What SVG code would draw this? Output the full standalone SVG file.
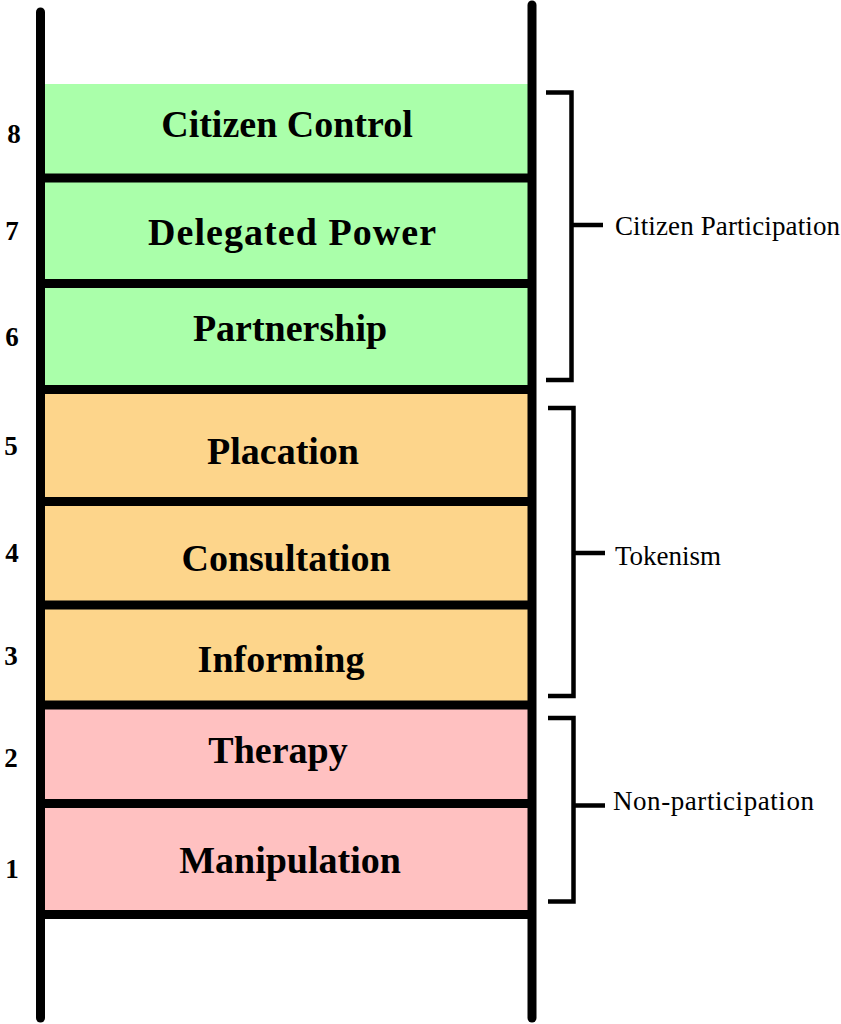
<svg xmlns="http://www.w3.org/2000/svg" width="841" height="1024" viewBox="0 0 841 1024">
<style>
.rail{stroke:#000;stroke-width:9;stroke-linecap:round;fill:none}
.rung{stroke:#000;stroke-width:9;fill:none}
.br{stroke:#000;stroke-width:4.5;fill:none}
.lbl{font-family:"Liberation Serif","Times New Roman",serif;font-weight:bold;font-size:38px;text-anchor:middle;fill:#000}
.num{font-family:"Liberation Serif","Times New Roman",serif;font-weight:bold;font-size:27px;text-anchor:middle;fill:#000}
.grp{font-family:"Liberation Serif","Times New Roman",serif;font-size:27px;fill:#000}
.g{fill:#aaffaa}.o{fill:#fdd58b}.p{fill:#ffc1c1}
</style>
<rect width="841" height="1024" fill="#fff"/>
<g id="rung8"><rect class="g" x="40" y="84" width="492" height="94"/><text class="lbl" x="287" y="137">Citizen Control</text><text class="num" x="14" y="143">8</text></g>
<g id="rung7"><rect class="g" x="40" y="178" width="492" height="106"/><text class="lbl" x="292" y="245" textLength="288" lengthAdjust="spacing">Delegated Power</text><text class="num" x="12" y="240">7</text></g>
<g id="rung6"><rect class="g" x="40" y="284" width="492" height="106"/><text class="lbl" x="290" y="341">Partnership</text><text class="num" x="12" y="346">6</text></g>
<g id="rung5"><rect class="o" x="40" y="390" width="492" height="112"/><text class="lbl" x="283" y="464">Placation</text><text class="num" x="11" y="455">5</text></g>
<g id="rung4"><rect class="o" x="40" y="502" width="492" height="103"/><text class="lbl" x="286" y="571">Consultation</text><text class="num" x="12" y="562">4</text></g>
<g id="rung3"><rect class="o" x="40" y="605" width="492" height="100"/><text class="lbl" x="281" y="672">Informing</text><text class="num" x="11" y="665">3</text></g>
<g id="rung2"><rect class="p" x="40" y="705" width="492" height="99"/><text class="lbl" x="278" y="763">Therapy</text><text class="num" x="11" y="767">2</text></g>
<g id="rung1"><rect class="p" x="40" y="804" width="492" height="111"/><text class="lbl" x="290" y="873">Manipulation</text><text class="num" x="12" y="878">1</text></g>
<g id="ladder">
<line class="rung" x1="40" y1="178" x2="532" y2="178"/>
<line class="rung" x1="40" y1="283.5" x2="532" y2="283.5"/>
<line class="rung" x1="40" y1="389.5" x2="532" y2="389.5"/>
<line class="rung" x1="40" y1="501.5" x2="532" y2="501.5"/>
<line class="rung" x1="40" y1="605" x2="532" y2="605"/>
<line class="rung" x1="40" y1="705" x2="532" y2="705"/>
<line class="rung" x1="40" y1="803.5" x2="532" y2="803.5"/>
<line class="rung" x1="40" y1="914.5" x2="532" y2="914.5"/>
<line class="rail" x1="40.5" y1="12" x2="40.5" y2="1018"/>
<line class="rail" x1="532" y1="5" x2="532" y2="1018"/>
</g>
<g id="connectors">
<path class="br" d="M546 92.5H571.5V380H546M571.5 225H603"/>
<path class="br" d="M548 408H573.5V696H548M573.5 553H605"/>
<path class="br" d="M548 718H573.5V901.5H548M573.5 805.5H605"/>
</g>
<g id="groups">
<text class="grp" x="615" y="235" textLength="225" lengthAdjust="spacing">Citizen Participation</text>
<text class="grp" x="615" y="565">Tokenism</text>
<text class="grp" x="613" y="810" textLength="201" lengthAdjust="spacing">Non-participation</text>
</g>
</svg>
